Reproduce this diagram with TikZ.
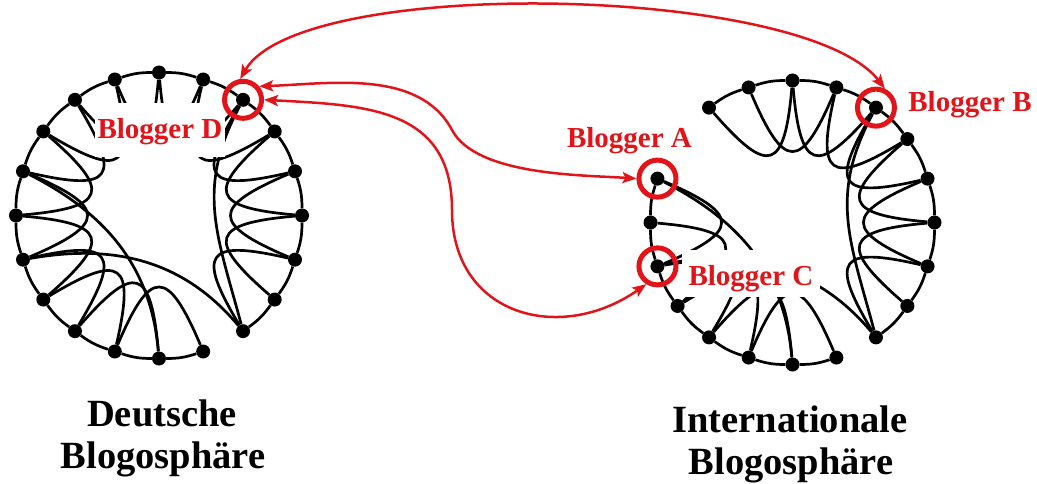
\documentclass[tikz,border=0pt]{standalone}
\usepackage{fontspec}
\setmainfont{Liberation Serif}
\usetikzlibrary{arrows.meta,calc}
\definecolor{hlred}{RGB}{226,20,26}
\begin{document}
\begin{tikzpicture}[x=1pt,y=1pt,
  dot/.style={circle,fill=black,inner sep=0pt,minimum size=14pt},
  link/.style={draw=black,line width=2.7pt},
  hl/.style={circle,draw=hlred,line width=5pt,minimum size=37pt,inner sep=0pt},
  rlabel/.style={text=hlred,font=\fontsize{29}{34}\selectfont\bfseries,inner sep=0pt,anchor=base},
  mask/.style={fill=white},
  title/.style={font=\fontsize{38.5}{44}\selectfont\bfseries,inner sep=0pt,anchor=base},
  arr/.style={draw=hlred,line width=2.5pt,
    {Stealth[length=14pt,width=11pt,inset=3pt]}-{Stealth[length=14pt,width=11pt,inset=3pt]}},
]
\useasboundingbox (0,0) rectangle (1037,483);
\coordinate (Lc) at (159,267.5);
\coordinate (Rc) at (792.5,260.5);

% blogs of the two rings
\foreach \k in {0,...,19}
  \node[dot] (L\k) at ($(Lc)+({18*\k}:143)$) {};
\foreach \k in {0,...,7,9,10,...,19}
  \node[dot] (R\k) at ($(Rc)+({18*\k}:142)$) {};

% links between neighbours along the rim
\foreach \k in {0,...,15,17,18,19}{
  \pgfmathtruncatemacro{\nb}{mod(\k+1,20)}
  \draw[link] (L\k) to[bend right=9] (L\nb);
}
\foreach \k in {0,...,6,9,10,...,15,17,18,19}{
  \pgfmathtruncatemacro{\nb}{mod(\k+1,20)}
  \draw[link] (R\k) to[bend right=9] (R\nb);
}

% links to the second neighbour, bulging inwards
\foreach \k in {0,...,14,17,18,19}{
  \pgfmathtruncatemacro{\nb}{mod(\k+2,20)}
  \pgfmathtruncatemacro{\aout}{18*\k+175}
  \pgfmathtruncatemacro{\ain}{18*\nb+185}
  \draw[link] (L\k) to[out=\aout,in=\ain,looseness=2.6] (L\nb);
}
\foreach \k in {0,...,5,9,10,...,14,17,18,19}{
  \pgfmathtruncatemacro{\nb}{mod(\k+2,20)}
  \pgfmathtruncatemacro{\aout}{18*\k+175}
  \pgfmathtruncatemacro{\ain}{18*\nb+185}
  \draw[link] (R\k) to[out=\aout,in=\ain,looseness=2.6] (R\nb);
}

% long-range shortcuts
\foreach \p in {L,R}{
  \draw[link] (\p9) to[out=-27,in=95] (\p15);
  \draw[link] (\p11) to[out=10,in=130] (\p17);
  \draw[link] (\p3) to[out=-118,in=105,looseness=1.1] (\p17);
}

% blogger names
\node[rlabel,mask,text height=34pt,text depth=16pt,inner ysep=2pt,inner xsep=3pt] (labD) at (160,344) {Blogger D};
\node[rlabel] (labA) at (629.5,335) {Blogger A};
\node[rlabel] (labB) at (970,371) {Blogger B};
\node[rlabel,mask,text height=33pt,text depth=10pt,inner ysep=2pt,inner xsep=7pt] (labC) at (751,198) {Blogger C};

% highlighted bloggers
\node[hl] (Dc) at (L3) {};
\node[hl] (Ac) at (R9) {};
\node[hl] (Bc) at (R3) {};
\node[hl] (Cc) at (R11) {};

% connections between the spheres
\draw[arr] (Dc.98) .. controls +(60,104) and +(-80,104) .. (Bc.65);
\coordinate (kinkA) at (452,353);
\draw[arr] (Dc.40) to[out=2,in=118,looseness=0.9] (kinkA)
                   to[out=-62,in=176,looseness=0.7] (Ac.west);
\coordinate (kinkC) at (452,273);
\draw[arr] (Dc.east) to[out=-3,in=90,looseness=1.2] (kinkC)
                     to[out=-90,in=215,looseness=1.3] (Cc.238);

% sphere titles
\node[title] (tL1) at (162,57) {Deutsche};
\node[title] (tL2) at (163,15) {Blogosphäre};
\node[title] (tR1) at (790,51) {Internationale};
\node[title] (tR2) at (791,9) {Blogosphäre};
\end{tikzpicture}
\end{document}
